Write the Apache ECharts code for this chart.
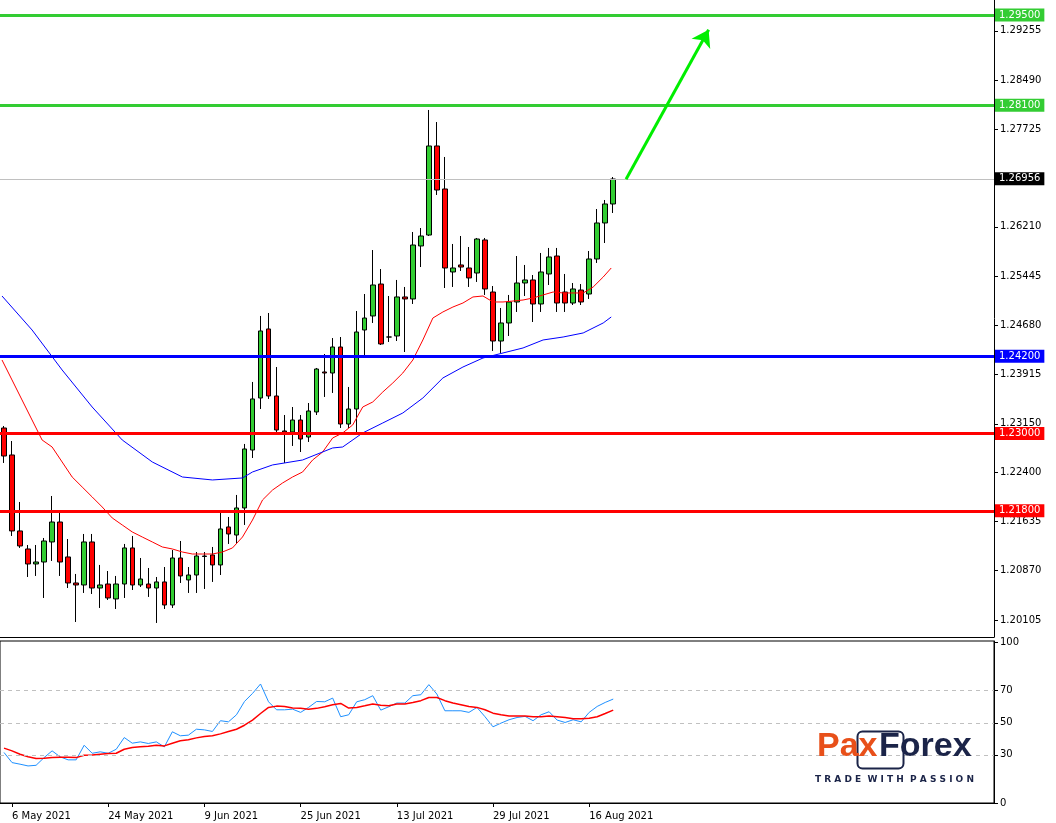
<!DOCTYPE html>
<html><head><meta charset="utf-8">
<script src="https://cdn.jsdelivr.net/npm/echarts@6/dist/echarts.min.js"></script>
<style>html,body{margin:0;padding:0;background:#fff}#c{width:1056px;height:823px}</style>
</head><body><div id="c"></div>
<script>
// candles: [open, close, low, high]
const candles = [
[1.23086,1.22651,1.22543,1.23117],[1.22667,1.21487,1.21409,1.22884],[1.21487,1.21254,1.21223,1.21937],
[1.21207,1.20974,1.20772,1.21269],[1.20974,1.21005,1.20788,1.21269],[1.21005,1.21331,1.20446,1.21378],
[1.21316,1.21626,1.21021,1.22030],[1.21626,1.21005,1.20788,1.21782],[1.21083,1.20679,1.20601,1.21362],
[1.20679,1.20648,1.20073,1.20819],[1.20648,1.21316,1.20524,1.21440],[1.21316,1.20601,1.20508,1.21440],
[1.20601,1.20648,1.20291,1.20959],[1.20663,1.20446,1.20415,1.20865],[1.20431,1.20663,1.20275,1.20788],
[1.20663,1.21223,1.20446,1.21285],[1.21223,1.20648,1.20570,1.21409],[1.20648,1.20741,1.20617,1.21067],
[1.20663,1.20601,1.20462,1.20912],[1.20601,1.20695,1.20058,1.20772],[1.20695,1.20337,1.20275,1.20927],
[1.20337,1.21067,1.20291,1.21191],[1.21067,1.20788,1.20679,1.21331],[1.20726,1.20803,1.20524,1.20927],
[1.20803,1.21098,1.20524,1.21160],[1.21098,1.21090,1.20586,1.21160],[1.21114,1.20959,1.20695,1.21238],
[1.20959,1.21518,1.20803,1.21782],[1.21549,1.21440,1.21285,1.21704],[1.21424,1.21844,1.21300,1.22046],
[1.21844,1.22760,1.21580,1.22838],[1.22744,1.23537,1.22620,1.23801],[1.23552,1.24593,1.23381,1.24826],
[1.24624,1.23583,1.23537,1.24872],[1.23583,1.23055,1.23024,1.24033],[1.23040,1.23024,1.22543,1.23288],
[1.23024,1.23210,1.22807,1.23412],[1.23210,1.22915,1.22713,1.23288],[1.22946,1.23350,1.22869,1.23474],
[1.23335,1.24002,1.23288,1.24018],[1.23956,1.23940,1.23568,1.24235],[1.23940,1.24344,1.23630,1.24483],
[1.24344,1.23148,1.23086,1.24499],[1.23148,1.23381,1.23086,1.23723],[1.23381,1.24577,1.23024,1.24903],
[1.24608,1.24794,1.24204,1.25167],[1.24826,1.25307,1.24717,1.25850],[1.25322,1.24391,1.24375,1.25555],
[1.24499,1.24499,1.24422,1.25136],[1.24515,1.25121,1.24437,1.25385],[1.25121,1.25090,1.24266,1.25276],
[1.25090,1.25928,1.25012,1.26130],[1.25913,1.26068,1.25586,1.26192],[1.26083,1.27466,1.26068,1.28025],
[1.27466,1.26782,1.26705,1.27838],[1.26798,1.25571,1.25260,1.27295],[1.25509,1.25571,1.25276,1.25944],
[1.25618,1.25586,1.25524,1.26068],[1.25571,1.25416,1.25276,1.25897],[1.25493,1.26021,1.25354,1.26037],
[1.26006,1.25245,1.25152,1.26037],[1.25198,1.24437,1.24282,1.25291],[1.24437,1.24717,1.24251,1.24950],
[1.24717,1.25043,1.24515,1.25152],[1.25043,1.25338,1.24888,1.25757],[1.25338,1.25385,1.25136,1.25618],
[1.25385,1.25012,1.24732,1.25462],[1.25012,1.25509,1.24888,1.25804],[1.25478,1.25742,1.25307,1.25882],
[1.25757,1.25027,1.24888,1.25882],[1.25198,1.25027,1.24888,1.25478],[1.25027,1.25245,1.24996,1.25338],
[1.25229,1.25043,1.24996,1.25322],[1.25167,1.25711,1.25090,1.25835],[1.25711,1.26270,1.25649,1.26487],
[1.26270,1.26565,1.25959,1.26627],[1.26565,1.26953,1.26425,1.26984]
];
const slotCount = 124;
const dateTicks = {1:'6 May 2021',13:'24 May 2021',25:'9 Jun 2021',37:'25 Jun 2021',49:'13 Jul 2021',61:'29 Jul 2021',73:'16 Aug 2021'};
const priceTicks = [1.20105,1.20870,1.21635,1.22400,1.23150,1.23915,1.24680,1.25445,1.26210,1.27725,1.28490,1.29255];
const greenLevels = [1.29500,1.28100];
const blueLevels = [1.24200];
const redLevels = [1.23000,1.21800];
const lastPrice = 1.26956;
// moving averages: candle position, value
const maRedIdx = [-0.25,1,2.25,3.5,4.75,6,7.25,8.5,9.75,11,12.25,13.5,14.75,16,17.25,18.5,19.75,21,22.25,23.5,24.75,26,27.25,28.5,29.75,31,32.25,33.5,34.75,36,37.25,38.5,39.75,41,42.25,43.5,44.75,46,47.25,48.5,49.75,51,52.25,53.5,54.75,56,57.25,58.5,59.75,61,62.25,63.5,64.75,66,67.25,68.5,69.75,71,72.25,73.5,74.75,75.75];
const maRedVal = [1.24142,1.23832,1.23521,1.23210,1.22900,1.22791,1.22558,1.22325,1.22170,1.22015,1.21859,1.21689,1.21580,1.21471,1.21393,1.21316,1.21238,1.21207,1.21160,1.21129,1.21129,1.21129,1.21160,1.21223,1.21393,1.21657,1.21968,1.22123,1.22232,1.22325,1.22403,1.22589,1.22713,1.22931,1.23009,1.23133,1.23412,1.23490,1.23645,1.23785,1.23940,1.24142,1.24453,1.24794,1.24888,1.24965,1.25027,1.25121,1.25136,1.25043,1.25043,1.25058,1.25074,1.25105,1.25152,1.25198,1.25183,1.25183,1.25183,1.25276,1.25431,1.25571];
const maBlueIdx = [-0.25,3.5,7.25,11,14.75,18.5,22.25,26,29.75,31,33.5,37.25,41,42.25,44.75,47.25,49.75,52.25,54.75,57.25,59.75,62.25,64.75,67.25,69.75,72.25,74.75,75.75];
const maBlueVal = [1.25136,1.24608,1.23987,1.23412,1.22900,1.22558,1.22325,1.22279,1.22310,1.22403,1.22512,1.22589,1.22776,1.22791,1.23009,1.23164,1.23319,1.23552,1.23863,1.24033,1.24173,1.24251,1.24329,1.24453,1.24499,1.24562,1.24717,1.24810];
const arrowFrom = [77.6,1.26950];
const arrowTo = [87.9,1.29270];
// oscillator panel
const oscTicks = [0,30,50,70,100];
const oscLevels = [30,50,70];
const oscBlue = [31.5,25.2,24.2,23.1,23.5,28.3,32.5,28.8,26.9,26.9,36.0,31.0,31.9,31.0,33.5,40.8,37.3,38.1,37.1,38.1,35.0,44.4,41.9,42.3,46.0,45.6,44.6,51.3,50.6,55.0,63.3,68.3,74.2,63.1,58.1,58.1,58.5,56.5,59.6,63.3,63.1,65.4,53.8,55.0,63.1,64.4,66.9,57.9,60.0,62.3,62.3,66.9,67.5,73.8,67.9,57.5,57.5,57.5,56.5,59.6,53.8,47.5,49.8,51.9,53.3,54.0,51.3,55.0,56.9,51.7,50.2,51.9,50.6,56.5,60.2,62.7,64.8];
const oscRed = [34.2,32.5,30.4,28.8,27.7,27.9,28.3,28.5,28.5,28.3,29.8,30.0,30.4,30.8,31.0,33.5,34.6,35.0,35.4,36.0,35.6,37.3,38.8,39.4,40.6,41.5,41.9,43.1,44.6,46.0,48.5,51.7,55.8,59.6,60.4,60.2,59.2,59.0,58.5,59.0,60.0,61.3,62.1,59.2,59.6,60.6,61.7,61.0,60.6,61.7,61.7,62.7,63.8,65.8,65.8,63.8,62.3,61.3,60.2,59.6,58.1,56.0,55.0,54.2,54.2,54.2,53.8,53.8,54.2,53.8,53.3,52.5,52.5,52.9,53.8,55.8,57.9];

const cats = Array.from({length: slotCount}, (_, i) => String(i));
const FONT = 'DejaVu Sans';
const pair = (a, b) => a.map((v, i) => [v, b[i]]);
function level(v, color, w, bg) {
  return {yAxis: v, lineStyle: {color: color, width: w, type: 'solid'},
    label: {show: true, position: 'end', formatter: v.toFixed(5), color: '#fff',
      backgroundColor: bg || color, padding: [2, 4, 1, 4], distance: 1,
      fontFamily: FONT, fontSize: 10}};
}
const levels = [].concat(
  [level(lastPrice, '#c0c0c0', 1, '#000')],
  greenLevels.map(v => level(v, '#33cc33', 3)),
  blueLevels.map(v => level(v, '#0000ff', 3)),
  redLevels.map(v => level(v, '#ff0000', 3))
);

const chart = echarts.init(document.getElementById('c'), null, {renderer: 'canvas'});
chart.setOption({
  animation: false,
  backgroundColor: '#fff',
  grid: [
    {left: -2, right: 62, top: 0, height: 637, show: false},
    {left: -2, right: 62, top: 641, height: 162, show: true, borderColor: '#000', borderWidth: 1}
  ],
  xAxis: [
    {type: 'category', data: cats, gridIndex: 0, boundaryGap: true,
      axisLine: {show: true, onZero: false, lineStyle: {color: '#000'}}, axisTick: {show: false}, axisLabel: {show: false}, splitLine: {show: false}},
    {type: 'category', data: cats, gridIndex: 1, boundaryGap: true,
      axisLine: {show: true, onZero: false, lineStyle: {color: '#000'}},
      axisTick: {show: true, alignWithLabel: true, interval: (i) => dateTicks[i] !== undefined, length: 4, lineStyle: {color: '#000'}},
      axisLabel: {show: true, interval: (i) => dateTicks[i] !== undefined, formatter: (v, i) => dateTicks[i] || '',
        align: 'left', margin: 8, color: '#000', fontFamily: FONT, fontSize: 10}},
    {type: 'value', gridIndex: 0, min: -0.5, max: slotCount - 0.5, show: false,
      axisLine: {show: false, onZero: false}, axisTick: {show: false}, axisLabel: {show: false}, splitLine: {show: false}}
  ],
  yAxis: [
    {type: 'value', gridIndex: 0, position: 'right', min: 1.19840, max: 1.29733,
      axisLine: {show: true, onZero: false, lineStyle: {color: '#000'}},
      axisTick: {show: true, inside: false, customValues: priceTicks, length: 4, lineStyle: {color: '#000'}},
      axisLabel: {show: true, customValues: priceTicks, formatter: v => v.toFixed(5), color: '#000', fontFamily: FONT, fontSize: 10, margin: 6},
      minorTick: {show: false}, splitLine: {show: false}},
    {type: 'value', gridIndex: 1, position: 'right', min: 0, max: 101,
      axisLine: {show: true, onZero: false, lineStyle: {color: '#000'}},
      axisTick: {show: true, customValues: oscTicks, length: 4, lineStyle: {color: '#000'}},
      axisLabel: {show: true, customValues: oscTicks, color: '#000', fontFamily: FONT, fontSize: 10, margin: 6},
      splitLine: {show: false}}
  ],
  series: [
    {type: 'candlestick', xAxisIndex: 0, yAxisIndex: 0, data: candles, barWidth: 5, z: 3,
      itemStyle: {color: '#32cd32', color0: '#ff0000', borderColor: '#000', borderColor0: '#000', borderWidth: 1}},
    {type: 'line', xAxisIndex: 2, yAxisIndex: 0, data: [], z: 2,
      markLine: {silent: true, symbol: 'none', animation: false, precision: 5, data: levels}},
    {type: 'line', xAxisIndex: 2, yAxisIndex: 0, data: pair(maRedIdx, maRedVal), showSymbol: false,
      lineStyle: {color: '#ff0000', width: 1}, z: 4},
    {type: 'line', xAxisIndex: 2, yAxisIndex: 0, data: pair(maBlueIdx, maBlueVal), showSymbol: false,
      lineStyle: {color: '#0000ff', width: 1}, z: 4},
    {type: 'line', xAxisIndex: 2, yAxisIndex: 0, data: [],
      markLine: {silent: true, symbol: ['none', 'arrow'], symbolSize: 16,
        lineStyle: {color: '#00ee00', width: 3, type: 'solid'}, label: {show: false},
        data: [[{coord: arrowFrom}, {coord: arrowTo}]]}},
    {type: 'line', xAxisIndex: 1, yAxisIndex: 1, data: oscBlue, showSymbol: false,
      lineStyle: {color: '#1e90ff', width: 1},
      markLine: {silent: true, symbol: 'none', label: {show: false},
        lineStyle: {color: '#c0c0c0', type: [4, 4], width: 1}, data: oscLevels.map(v => ({yAxis: v}))}},
    {type: 'line', xAxisIndex: 1, yAxisIndex: 1, data: oscRed, showSymbol: false,
      lineStyle: {color: '#ff0000', width: 1.5}}
  ],
  graphic: [
    {type: 'rect', left: 855, top: 729, shape: {width: 46, height: 37, r: 5}, style: {fill: 'none', stroke: '#1b2448', lineWidth: 2}, z: 10},
    {type: 'text', left: 817, top: 730, style: {text: 'Pax', fill: '#e8501a', font: 'bold 34px "Liberation Sans"'}, z: 11},
    {type: 'text', left: 879, top: 730, style: {text: 'Forex', fill: '#1b2448', font: 'bold 34px "Liberation Sans"'}, z: 11},
    {type: 'text', left: 815, top: 775, style: {text: 'T R A D E  W I T H  P A S S I O N', fill: '#1b2448', font: 'bold 9px "DejaVu Sans"'}, z: 11}
  ]
});
</script></body></html>
